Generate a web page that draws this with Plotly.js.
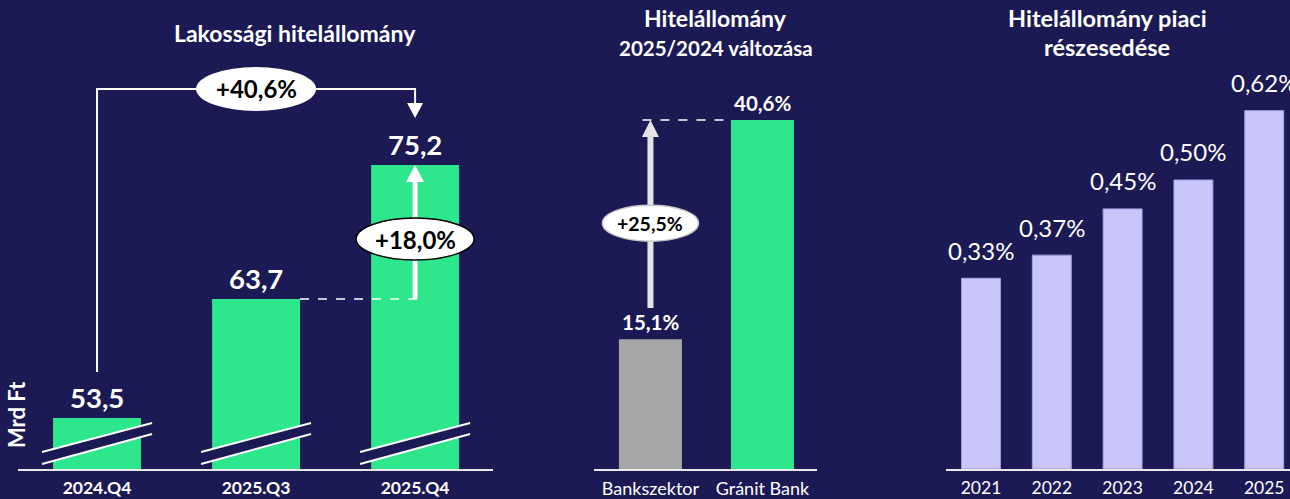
<!DOCTYPE html>
<html><head><meta charset="utf-8">
<script src="https://cdn.plot.ly/plotly-3.0.1.min.js"></script>
<style>html,body{margin:0;padding:0;background:#1c1a55;overflow:hidden}#chart{width:1290px;height:499px}</style>
</head><body><div id="chart"></div>
<script>
// ---- data ----
const loanCats = ['2024.Q4', '2025.Q3', '2025.Q4'];
const loanVals = [53.5, 63.7, 75.2];           // Mrd Ft
const loanChangeLabels = ['+40,6%', '+18,0%']; // 2025.Q4 vs 2024.Q4, 2025.Q4 vs 2025.Q3
const growthCats = ['Bankszektor', 'Gránit Bank'];
const growthVals = [15.1, 40.6];                // %
const growthGapLabel = '+25,5%';
const shareCats = ['2021', '2022', '2023', '2024', '2025'];
const shareVals = [0.33, 0.37, 0.45, 0.50, 0.62]; // %

const titleLoans = 'Lakossági hitelállomány';
const titleGrowth = ['Hitelállomány', '2025/2024 változása'];
const titleShare = ['Hitelállomány piaci', 'részesedése'];
const unitLabel = 'Mrd Ft';

// ---- style ----
const NAVY = '#1c1a55', GREEN = '#2ee68c', WHITE = '#ffffff', GRAY = '#a6a6a6', LILAC = '#c9c6fc';
const F = 'Lato, "Noto Sans", sans-serif';
const fmt = (v, d) => v.toFixed(d).replace('.', ',');

const W = 1290, H = 499;
const yDom = [1 - 469 / H, 1 - 60 / H];

const traces = [
  {type: 'bar', x: loanCats, y: loanVals, xaxis: 'x', yaxis: 'y', width: 0.553,
   marker: {color: GREEN}, hoverinfo: 'none'},
  {type: 'bar', x: growthCats, y: growthVals, xaxis: 'x2', yaxis: 'y2', width: 0.5625,
   marker: {color: [GRAY, GREEN]}, hoverinfo: 'none'},
  {type: 'bar', x: shareCats, y: shareVals, xaxis: 'x3', yaxis: 'y3', width: 0.55,
   marker: {color: LILAC, line: {color: '#a19ee8', width: 1}}, hoverinfo: 'none'}
];

const xBase = {type: 'category', showgrid: false, zeroline: false, showline: true,
  linecolor: '#e8e8e8', linewidth: 2, ticks: '', fixedrange: true, ticklabelstandoff: 2};
const yBase = {showgrid: false, zeroline: false, showline: false, showticklabels: false,
  ticks: '', fixedrange: true};

const ann = [];
const shp = [];
const txt = (o) => Object.assign({showarrow: false, xanchor: 'center', yanchor: 'middle'}, o);

// titles
ann.push(txt({xref: 'paper', yref: 'paper', x: 295 / W, y: 1 - 33 / H, text: titleLoans,
  font: {family: F, size: 23, color: WHITE, weight: 'bold'}}));
ann.push(txt({xref: 'paper', yref: 'paper', x: 715 / W, y: 1 - 18 / H, text: titleGrowth[0],
  font: {family: F, size: 23, color: WHITE, weight: 'bold'}}));
ann.push(txt({xref: 'paper', yref: 'paper', x: 716 / W, y: 1 - 48 / H, text: titleGrowth[1],
  font: {family: F, size: 20.5, color: WHITE, weight: 'bold'}}));
ann.push(txt({xref: 'paper', yref: 'paper', x: 1107 / W, y: 1 - 18 / H, text: titleShare[0],
  font: {family: F, size: 23.5, color: WHITE, weight: 'bold'}}));
ann.push(txt({xref: 'paper', yref: 'paper', x: 1107 / W, y: 1 - 47 / H, text: titleShare[1],
  font: {family: F, size: 23.5, color: WHITE, weight: 'bold'}}));
ann.push(txt({xref: 'paper', yref: 'paper', x: 16 / W, y: 1 - 415 / H, text: unitLabel,
  textangle: -90, font: {family: F, size: 22, color: WHITE, weight: 'bold'}}));

// value labels
loanVals.forEach((v, i) => ann.push(txt({xref: 'x', yref: 'y', x: i, y: v, yshift: 21, text: fmt(v, 1),
  font: {family: F, size: 27.5, color: WHITE, weight: 'bold'}})));
growthVals.forEach((v, i) => ann.push(txt({xref: 'x2', yref: 'y2', x: i, y: v, yshift: 17, text: fmt(v, 1) + '%',
  font: {family: F, size: 20.5, color: WHITE, weight: 'bold'}})));
shareVals.forEach((v, i) => ann.push(txt({xref: 'x3', yref: 'y3', x: i, y: v, yshift: 28, text: fmt(v, 2) + '%',
  font: {family: F, size: 24, color: WHITE}})));

// ---- left panel decorations (data units: 1 category = 159px, 1 Mrd Ft = 11.66px) ----
const uY = 1 / 11.659, uX = 1 / 159;
const brkX = 55 * uX;
loanVals.forEach((v, i) => {
  const yA = 49.55, yB = 50.58; // break band
  shp.push({type: 'path', xref: 'x', yref: 'y', fillcolor: NAVY, line: {width: 0},
    path: `M${i - brkX},${yA} L${i - brkX},${yB} L${i + brkX},${yB + 2.49} L${i + brkX},${yA + 2.58} Z`});
  shp.push({type: 'line', xref: 'x', yref: 'y', x0: i - brkX, x1: i + brkX, y0: yB, y1: yB + 2.49,
    line: {color: WHITE, width: 2}});
  shp.push({type: 'line', xref: 'x', yref: 'y', x0: i - brkX, x1: i + brkX, y0: yA, y1: yA + 2.58,
    line: {color: WHITE, width: 2}});
});
// year-over-year bracket
const brTop = loanVals[2] + 6.52, brStart = loanVals[0] + 3.95, brTip = loanVals[2] + 4.03;
shp.push({type: 'path', xref: 'x', yref: 'y', line: {color: WHITE, width: 2},
  path: `M0,${brStart} V${brTop} H2 V${brTip + 14 * uY}`});
shp.push({type: 'path', xref: 'x', yref: 'y', fillcolor: WHITE, line: {width: 0},
  path: `M${2 - 8 * uX},${brTip + 15 * uY} L${2 + 8 * uX},${brTip + 15 * uY} L2,${brTip} Z`});
shp.push({type: 'circle', xref: 'x', yref: 'y', x0: 1 - 60 * uX, x1: 1 + 60 * uX,
  y0: brTop - 22 * uY, y1: brTop + 22 * uY, fillcolor: WHITE, line: {width: 0}});
ann.push(txt({xref: 'x', yref: 'y', x: 1, y: brTop, text: loanChangeLabels[0],
  font: {family: F, size: 24, color: '#000000', weight: 'bold'}}));
// quarter-over-quarter arrow
shp.push({type: 'line', xref: 'x', yref: 'y', x0: 1 + 0.2765, x1: 2 + 8 * uX, y0: loanVals[1], y1: loanVals[1],
  line: {color: WHITE, width: 1.5, dash: 'dash'}});
shp.push({type: 'line', xref: 'x', yref: 'y', x0: 2, x1: 2, y0: loanVals[1], y1: loanVals[2] - 15 * uY,
  line: {color: WHITE, width: 5}});
shp.push({type: 'path', xref: 'x', yref: 'y', fillcolor: WHITE, line: {width: 0},
  path: `M${2 - 9 * uX},${loanVals[2] - 17 * uY} L${2 + 9 * uX},${loanVals[2] - 17 * uY} L2,${loanVals[2]} Z`});
const qY = loanVals[1] + 5.15;
shp.push({type: 'circle', xref: 'x', yref: 'y', x0: 2 - 59 * uX, x1: 2 + 59 * uX,
  y0: qY - 21 * uY, y1: qY + 21 * uY, fillcolor: WHITE, line: {color: '#000000', width: 1.5}});
ann.push(txt({xref: 'x', yref: 'y', x: 2, y: qY, text: loanChangeLabels[1],
  font: {family: F, size: 24, color: '#000000', weight: 'bold'}}));

// ---- middle panel decorations (1 category = 112px, 1% = 8.596px) ----
const mY = 1 / 8.596, mX = 1 / 112;
shp.push({type: 'line', xref: 'x2', yref: 'y2', x0: -8 * mX, x1: 1 - 0.28125, y0: growthVals[1], y1: growthVals[1],
  line: {color: WHITE, width: 1.5, dash: 'dash'}});
shp.push({type: 'line', xref: 'x2', yref: 'y2', x0: 0, x1: 0, y0: growthVals[0] + 3.63, y1: growthVals[1] - 16 * mY,
  line: {color: '#e4e4e4', width: 6}});
shp.push({type: 'path', xref: 'x2', yref: 'y2', fillcolor: '#e4e4e4', line: {width: 0},
  path: `M${-8.5 * mX},${growthVals[1] - 17 * mY} L${8.5 * mX},${growthVals[1] - 17 * mY} L0,${growthVals[1]} Z`});
const gY = 28.6;
shp.push({type: 'circle', xref: 'x2', yref: 'y2', x0: -48 * mX, x1: 48 * mX, y0: gY - 18 * mY, y1: gY + 18 * mY,
  fillcolor: WHITE, line: {color: '#c8c8c8', width: 1.5}});
ann.push(txt({xref: 'x2', yref: 'y2', x: 0, y: gY, text: growthGapLabel,
  font: {family: F, size: 19.5, color: '#000000', weight: 'bold'}}));

const layout = {
  width: W, height: H, margin: {l: 0, r: 0, t: 0, b: 0},
  paper_bgcolor: NAVY, plot_bgcolor: NAVY, showlegend: false,
  xaxis: Object.assign({}, xBase, {domain: [18 / W, 493 / W], range: [-0.497, 2.49], anchor: 'y',
    tickfont: {family: F, size: 17.5, color: WHITE, weight: 'bold'}}),
  yaxis: Object.assign({}, yBase, {domain: yDom, range: [49.126, 84.206], anchor: 'x'}),
  xaxis2: Object.assign({}, xBase, {domain: [594 / W, 817 / W], range: [-0.504, 1.487], anchor: 'y2',
    tickfont: {family: F, size: 18, color: WHITE}}),
  yaxis2: Object.assign({}, yBase, {domain: yDom, range: [0, 47.58], anchor: 'x2'}),
  xaxis3: Object.assign({}, xBase, {domain: [946 / W, 1], range: [-0.494, 4.364], anchor: 'y3',
    tickfont: {family: F, size: 17.5, color: WHITE}}),
  yaxis3: Object.assign({}, yBase, {domain: yDom, range: [0, 0.7076], anchor: 'x3'}),
  annotations: ann, shapes: shp
};

Plotly.newPlot('chart', traces, layout, {staticPlot: true, displayModeBar: false});
</script></body></html>
